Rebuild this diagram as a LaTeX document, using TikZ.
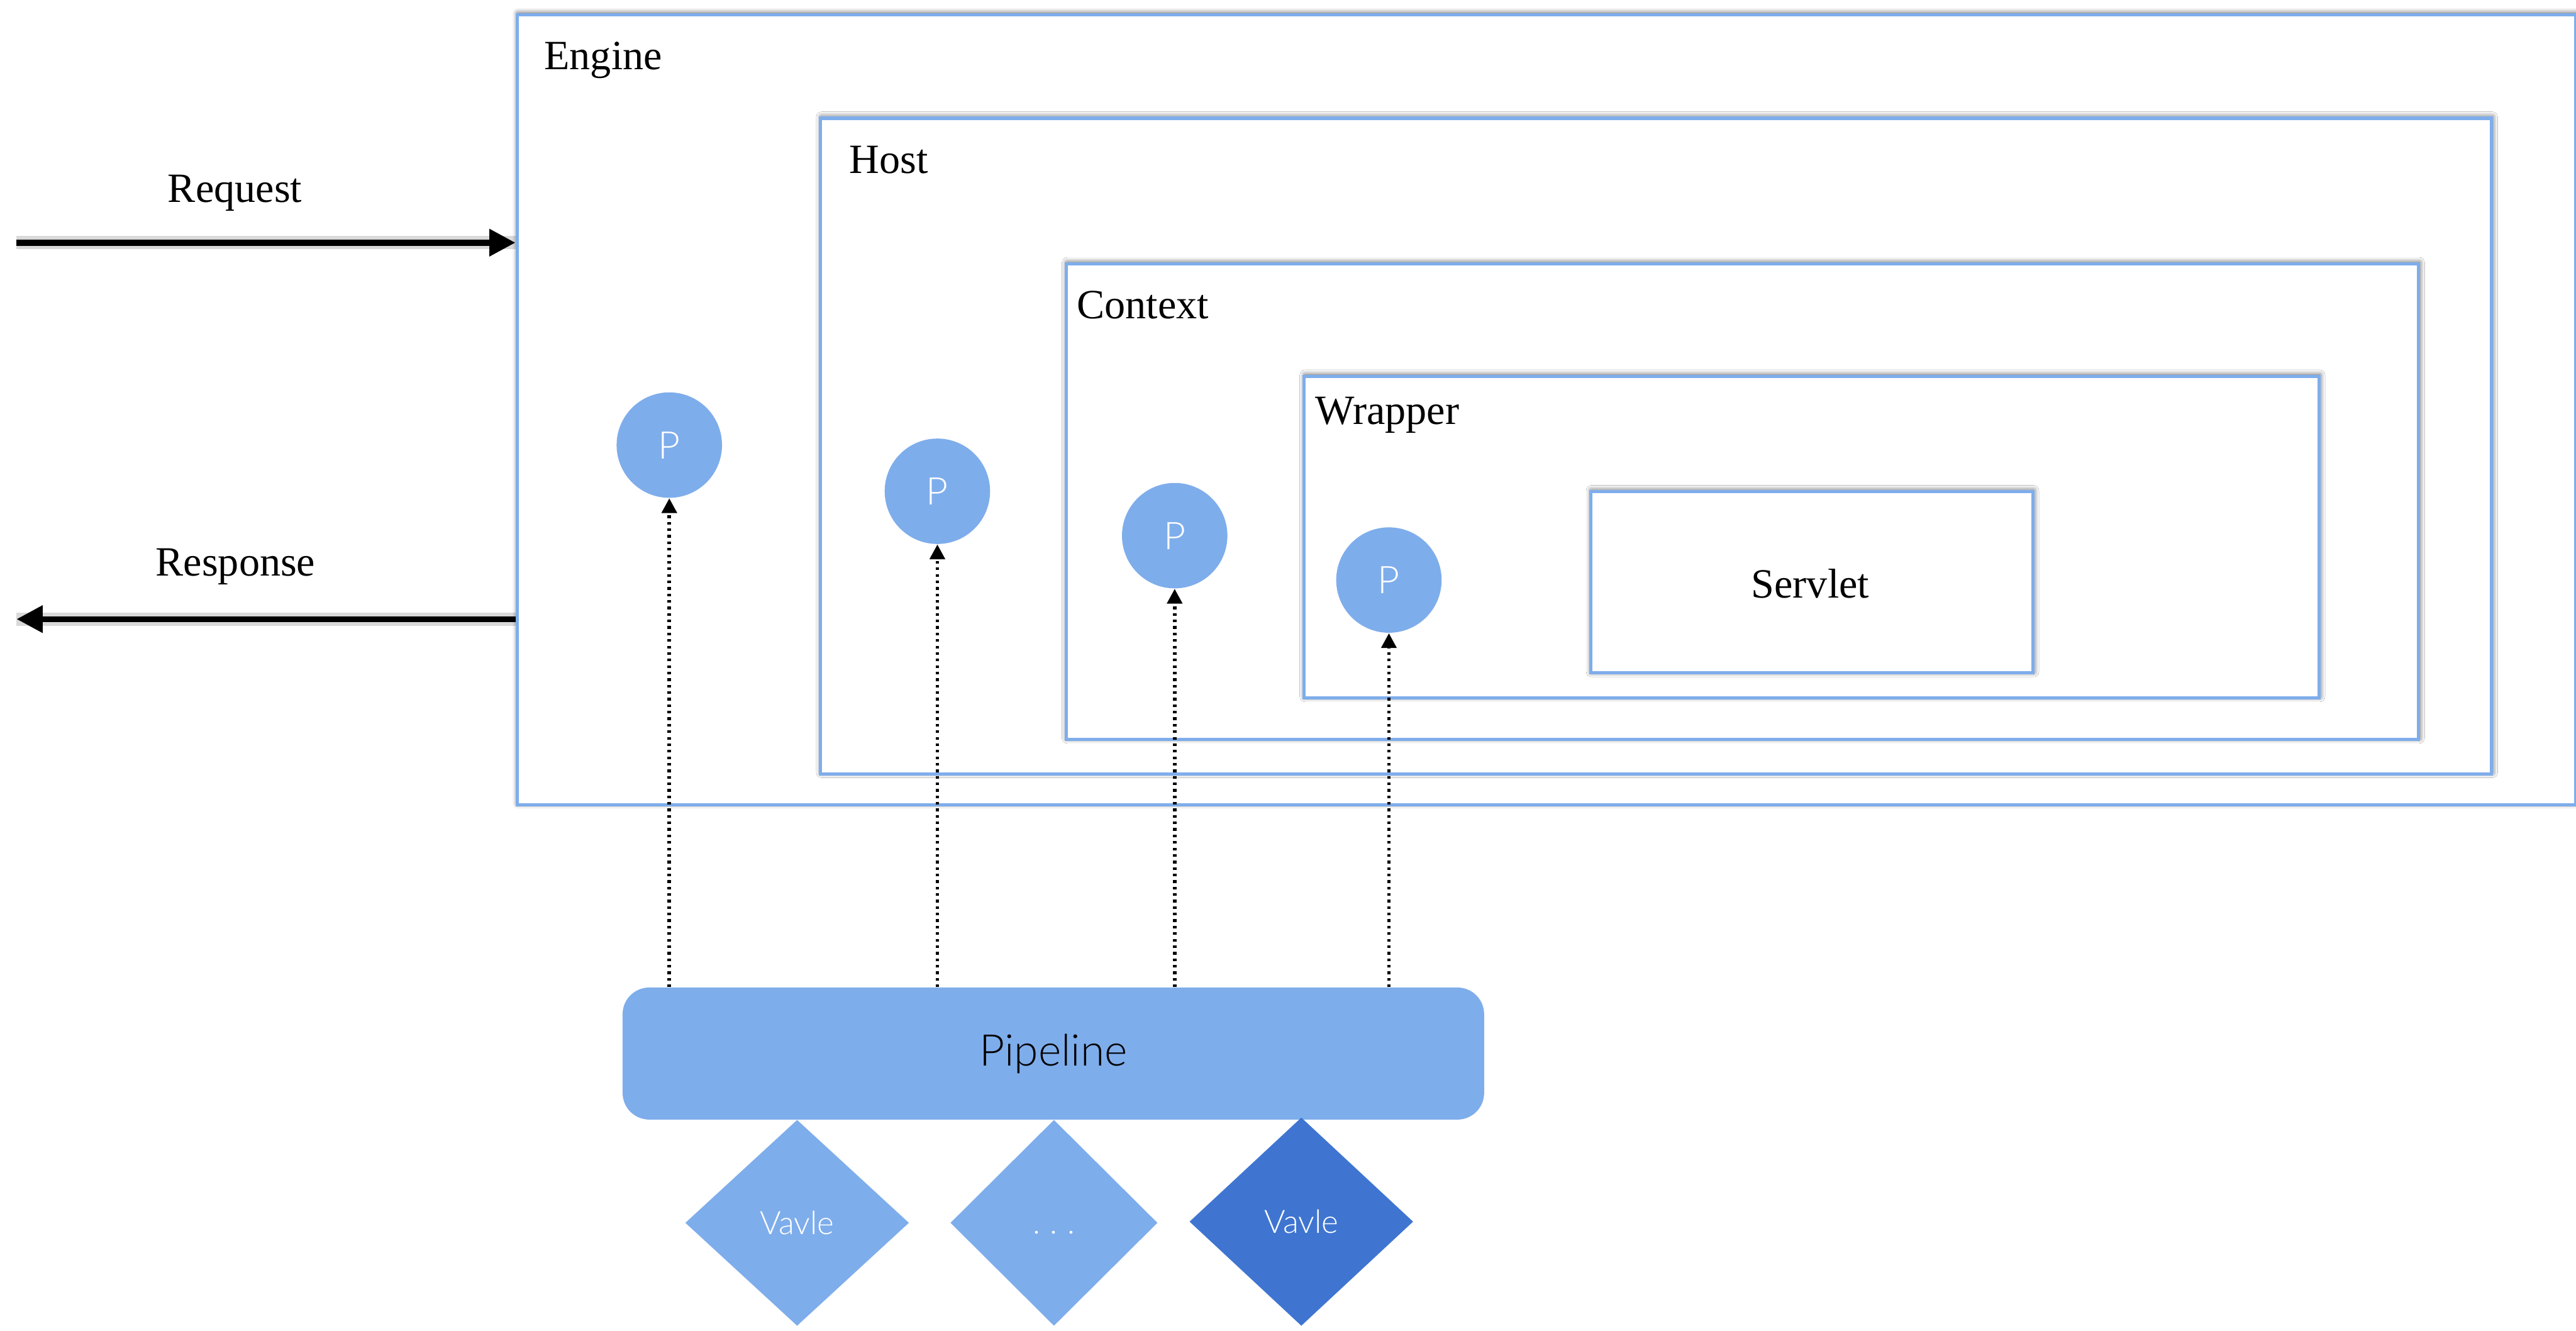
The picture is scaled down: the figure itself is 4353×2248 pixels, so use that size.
\documentclass[tikz,border=0pt]{standalone}
\usepackage{fontspec}
\setmainfont{Liberation Serif}
\newfontfamily\uisans{Lato}[UprightFont={* Light}]
\usetikzlibrary{arrows.meta,shapes.geometric,shadows.blur}
\definecolor{frameblue}{RGB}{126,173,235}
\definecolor{valvedark}{RGB}{63,117,209}
\begin{document}
\begin{tikzpicture}[x=0.01cm,y=-0.01cm,
  container/.style={rectangle, draw=frameblue, line width=0.055cm, fill=white,
    anchor=north west, inner sep=0pt,
    blur shadow={shadow xshift=0.4pt, shadow yshift=0.6pt,
      shadow blur radius=2.5pt, shadow opacity=75}},
  title/.style={anchor=base west, inner sep=0pt, font=\fontsize{20}{24}\selectfont},
  flowlabel/.style={anchor=base, inner sep=0pt, font=\fontsize{20}{24}\selectfont},
  pnode/.style={circle, fill=frameblue, minimum size=1.78cm, inner sep=0pt,
    text=white, font=\uisans\fontsize{18.3}{22}\selectfont},
  valve/.style={diamond, inner sep=0pt, text=white,
    minimum width=3.78cm, minimum height=3.48cm,
    font=\uisans\fontsize{15.5}{19}\selectfont},
  flowarrow/.style={line width=0.1cm, -{Triangle[length=0.44cm,width=0.44cm]},
    preaction={draw=black, opacity=0.15, line width=0.22cm, -}},
  linkarrow/.style={line width=0.06cm, dash pattern=on 0.045cm off 0.065cm,
    -{Triangle[length=0.25cm,width=0.25cm]}}
]
\path[use as bounding box] (0,0) rectangle (4353,2248);

% nested containers, outermost first
\node[container, minimum width=34.77cm, minimum height=13.34cm] (engine)  at (871,22) {};
\node[container, minimum width=28.22cm, minimum height=11.07cm] (host)    at (1384,197) {};
\node[container, minimum width=22.84cm, minimum height=8.03cm]  (context) at (1799,443) {};
\node[container, minimum width=17.14cm, minimum height=5.43cm]  (wrapper) at (2201,633) {};
\node[container, minimum width=7.47cm,  minimum height=3.06cm]  (servlet) at (2685,828) {};

\node[title] (enginelbl)  at (919,117)  {Engine};
\node[title] (hostlbl)    at (1435,293) {Host};
\node[title] (contextlbl) at (1819,538) {Context};
\node[title] (wrapperlbl) at (2222,717) {Wrapper};
\node[flowlabel] (servletlbl) at (3059,1010) {Servlet};

% request / response flow
\node[flowlabel] (reqlbl)  at (397,342) {Request};
\node[flowlabel] (resplbl) at (398,973) {Response};
\coordinate (reqstart) at (28,410);
\coordinate (respend)  at (28,1046);
\draw[flowarrow] (reqstart) -- (reqstart -| engine.west);
\draw[flowarrow] (respend -| engine.west) -- (respend);

% pipeline entry points
\node[pnode] (p1) at (1131,752) {P};
\node[pnode] (p2) at (1584,830) {P};
\node[pnode] (p3) at (1985,905) {P};
\node[pnode] (p4) at (2347,980) {P};

% pipeline and its valves
\node[rectangle, rounded corners=0.45cm, fill=frameblue, inner sep=0pt,
  minimum width=14.55cm, minimum height=2.23cm,
  font=\uisans\fontsize{21}{25}\selectfont] (pipe) at (1780,1780) {Pipeline};
\node[valve, fill=frameblue] (v1) at (1347,2066) {Vavle};
\node[valve, fill=frameblue, minimum width=3.5cm] (v2) at (1781,2066)
  {\vphantom{V}.\kern0.3em.\kern0.3em.};
\node[valve, fill=valvedark, minimum height=3.52cm] (v3) at (2199,2064) {Vavle};

\foreach \p in {p1,p2,p3,p4}
  \draw[linkarrow] (\p |- pipe.north) -- (\p.south);
\end{tikzpicture}
\end{document}
